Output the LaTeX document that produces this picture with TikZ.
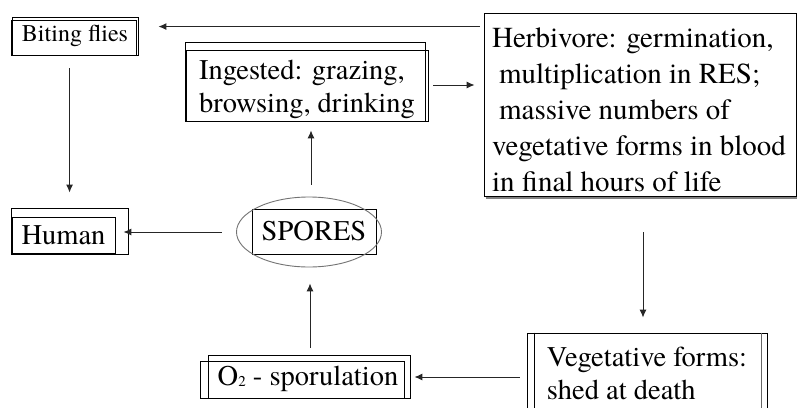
\documentclass[tikz,border=0pt]{standalone}
\usepackage{fontspec}
\setmainfont{texgyretermes}[Extension=.otf, UprightFont=*-regular, BoldFont=*-bold, ItalicFont=*-italic, BoldItalicFont=*-bolditalic]
\usetikzlibrary{calc,arrows.meta,shapes.geometric}
\begin{document}
\begin{tikzpicture}[x=1pt,y=-1pt,
  box/.style={draw=black, line width=0.9pt, inner sep=0pt, rectangle},
  big/.style={font=\fontsize{28.5}{33}\selectfont},
  arr/.style={draw=black!85, line width=1pt, -{Latex[length=8pt,width=7pt]}},
  extra/.style={draw=black, line width=0.9pt}
]
\useasboundingbox (0,0) rectangle (797,407);
\clip (0,0) rectangle (797,407);
\fill[white] (0,0) rectangle (797,407);

% boxes
\node[box, font=\fontsize{24}{27}\selectfont, minimum width=126, minimum height=38] (bf) at (75,36) {Biting flies};
\node[box, minimum width=242, minimum height=71] (ing) at (307,85.5) {};
\node[big, align=left, inner sep=0pt] (ingtxt) at ($(ing)+(0,4)$) {Ingested: grazing,\\browsing, drinking};
\node[box, minimum width=312, minimum height=183] (herb) at (640,104.5) {};
\node[align=left, inner sep=0pt, font=\fontsize{29}{36}\selectfont] (herbtxt) at ($(herb)+(-1,5)$) {Herbivore: germination,\\\hspace*{7pt}multiplication in RES;\\\hspace*{7pt}massive numbers of\\vegetative forms in blood\\in final hours of life};
\node[box, big, minimum width=103, minimum height=36] (human) at (63.5,235) {Human};
\node[box, big, minimum width=124, minimum height=45] (spr) at (314,231.5) {SPORES};
\node[draw=black!55, line width=0.9pt, ellipse, minimum width=145, minimum height=70, inner sep=0pt] (sporell) at (309,232) {};
\node[box, minimum width=202, minimum height=43] (o2) at (309,376.5) {};
\node[big, inner sep=0pt] (o2txt) at ($(o2)+(-1,2)$) {O\raisebox{-1pt}{\fontsize{15}{15}\selectfont 2} - sporulation};
\node[box, big, align=left, minimum width=240, minimum height=80] (veg) at (647,373) {Vegetative forms:\\shed at death};

% doubled outlines
\draw[extra] ($(bf.north west)+(0,3.5)$) rectangle ($(bf.south east)+(-2,0)$);
\draw[extra] ($(ing.north west)+(0,-7)$) rectangle ($(ing.south east)+(-3,0)$);
\draw[extra] ($(human.north west)+(0,-8)$) rectangle ($(human.south east)+(13,1)$);
\draw[extra] ($(o2.north west)+(-7,7)$) rectangle ($(o2.south east)+(-6,0)$);
\draw[extra] ($(veg.north west)+(8,0)$) -- ($(veg.south west)+(8,0)$);
\draw[extra, black!60] ($(veg.north east)+(-6,0)$) -- ($(veg.south east)+(-6,0)$);
\draw[black!50, line width=2pt] ($(herb.south west)+(2,2)$) -- ($(herb.south east)+(3,2)$) -- ($(herb.north east)+(3,4)$);

% arrows
\draw[arr] ($(herb.north west)+(-4,14)$) -- ($(bf.north east)+(20,10)$);
\draw[arr] ($(bf.south west)+(58,13)$) -- ($(human.north west)+(58,-24)$);
\draw[arr] ($(spr.west)+(-30,0.5)$) -- ($(human.east)+(8,-3)$);
\draw[arr] ($(sporell.north)+(2,-12)$) -- ($(ing.south)+(4,9)$);
\draw[arr] ($(ing.east)+(5,-0.5)$) -- ($(herb.west)+(-9,-19.5)$);
\draw[arr] ($(herb.south)+(3,36)$) -- ($(veg.north)+(-4,-15)$);
\draw[arr] ($(veg.west)+(-7,4)$) -- ($(o2.east)+(4,0.5)$);
\draw[arr] ($(o2.north)+(1,-7)$) -- ($(sporell.south)+(1,16)$);
\end{tikzpicture}
\end{document}
